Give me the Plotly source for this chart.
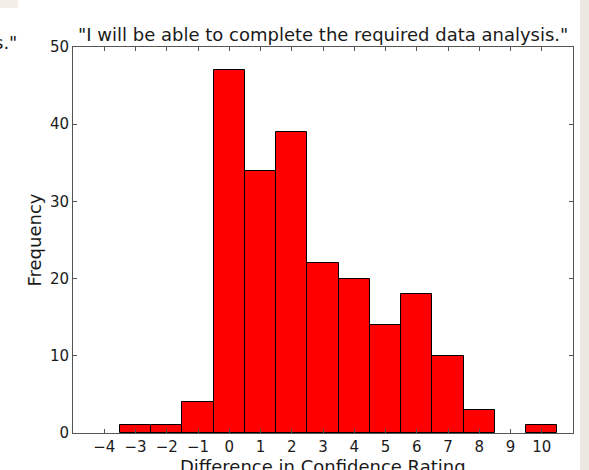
import plotly.graph_objects as go

ratings = [-3, -2, -1, 0, 1, 2, 3, 4, 5, 6, 7, 8, 9, 10]
frequency = [1, 1, 4, 47, 34, 39, 22, 20, 14, 18, 10, 3, 0, 1]
x_ticks = [-4, -3, -2, -1, 0, 1, 2, 3, 4, 5, 6, 7, 8, 9, 10]
y_ticks = [0, 10, 20, 30, 40, 50]

title = '"I will be able to complete the required data analysis."'
x_label = "Difference in Confidence Rating"
y_label = "Frequency"

font = "DejaVu Sans"
txt = "#1a1a1a"

fig = go.Figure(go.Bar(
    x=ratings, y=frequency, width=1,
    marker=dict(color="#ff0000",
                line=dict(color="#000000", width=[0 if f == 0 else 1 for f in frequency])),
))

axis_common = dict(
    showgrid=False, zeroline=False, showline=True, linecolor="#555555", linewidth=1,
    mirror="ticks", ticks="inside", ticklen=4, tickcolor="#555555",
    tickfont=dict(family=font, size=15, color=txt),
)

fig.update_xaxes(range=[-5, 11], tickvals=x_ticks, **axis_common)
fig.update_yaxes(range=[0, 50], tickvals=y_ticks, **axis_common)

fig.update_layout(
    width=589, height=470,
    margin=dict(l=73, r=16, t=47, b=37),
    paper_bgcolor="white", plot_bgcolor="white",
    showlegend=False, bargap=0,
    shapes=[
        dict(type="rect", xref="paper", yref="paper", x0=(580 - 73) / 500, x1=(589 - 73) / 500 + 0.01,
             y0=-1, y1=2, fillcolor="#ebe8e2", line=dict(width=0), layer="below"),
        dict(type="rect", xref="paper", yref="paper", x0=-73 / 500, x1=(18 - 73) / 500,
             y0=(470 - 37 - 8) / 386, y1=(470 - 37) / 386 + 0.1, fillcolor="#f3efe8",
             line=dict(width=0), layer="below"),
    ],
    annotations=[
        dict(text=title, xref="paper", yref="paper", x=0.5, y=1, yanchor="bottom",
             yshift=0, showarrow=False, font=dict(family=font, size=18, color=txt)),
        dict(text='s."', xref="paper", yref="paper", x=(19 - 73) / 500, y=1, xanchor="right",
             yanchor="bottom", yshift=-8, showarrow=False,
             font=dict(family=font, size=18, color=txt)),
        dict(text=x_label, xref="paper", yref="paper", x=0.5, y=0, yanchor="top",
             yshift=-21, showarrow=False, font=dict(family=font, size=18, color=txt)),
        dict(text=y_label, xref="paper", yref="paper", x=0, y=0.5, xanchor="right",
             xshift=-27, textangle=-90, showarrow=False,
             font=dict(family=font, size=18, color=txt)),
    ],
)

fig.write_html("out.html", config={"displayModeBar": False},
               post_script="document.body.style.margin='0';")
